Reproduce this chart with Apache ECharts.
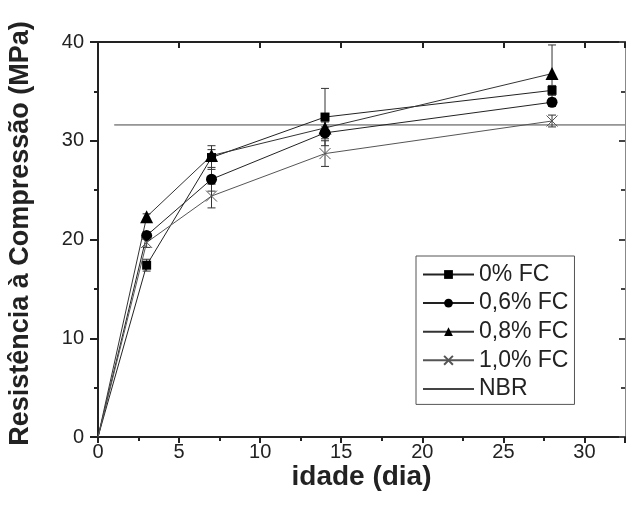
<!DOCTYPE html>
<html><head><meta charset="utf-8">
<script src="https://cdn.jsdelivr.net/npm/echarts@6/dist/echarts.min.js"></script>
<style>html,body{margin:0;padding:0;background:#fff}#c{width:626px;height:510px}</style>
</head><body><div id="c"></div>
<script>
const days = [0, 3, 7, 14, 28];
const names = ['0% FC', '0,6% FC', '0,8% FC', '1,0% FC'];
const fc00 = [0, 17.4, 28.3, 32.4, 35.1];
const fc06 = [0, 20.4, 26.1, 30.8, 33.9];
const fc08 = [0, 22.3, 28.5, 31.3, 36.8];
const fc10 = [0, 19.7, 24.4, 28.7, 32.0];
const err00 = [0, 0.6, 1.2, 2.9, 0.5];
const err06 = [0, 0.4, 1.2, 0.6, 0.4];
const err08 = [0, 0.3, 0.6, 0.6, 2.9];
const err10 = [0, 0.5, 1.2, 1.3, 0.6];
const nbrX = [1, 32.5];
const nbrY = [31.6, 31.6];
const xTicks = [0, 5, 10, 15, 20, 25, 30];
const yTicks = [0, 10, 20, 30, 40];

const values = [fc00, fc06, fc08, fc10];
const errs = [err00, err06, err08, err10];
const symbols = ['rect', 'circle', 'triangle', 'path://M0,0L10,10M10,0L0,10'];
const sizes = [9, 11, 13, 11];
const lineColors = ['#222', '#222', '#333', '#555'];

const series = [];
values.forEach((v, i) => {
  series.push({
    type: 'custom', name: 'err-' + i, silent: true, z: 1,
    data: days.map((d, j) => [d, v[j], errs[i][j]]).filter(p => p[2] > 0),
    renderItem: function (params, api) {
      const x = api.value(0), y = api.value(1), e = api.value(2);
      const top = api.coord([x, y + e]);
      const bot = api.coord([x, y - e]);
      const hw = 4;
      const st = {stroke: '#333', lineWidth: 1};
      return {type: 'group', children: [
        {type: 'line', shape: {x1: top[0], y1: top[1], x2: bot[0], y2: bot[1]}, style: st},
        {type: 'line', shape: {x1: top[0] - hw, y1: top[1], x2: top[0] + hw, y2: top[1]}, style: st},
        {type: 'line', shape: {x1: bot[0] - hw, y1: bot[1], x2: bot[0] + hw, y2: bot[1]}, style: st}
      ]};
    }
  });
});
values.forEach((v, i) => {
  const isX = i === 3;
  series.push({
    type: 'line', name: names[i], z: 3,
    data: days.map((d, j) => ({value: [d, v[j]], symbolSize: j === 0 ? 0 : sizes[i]})),
    symbol: symbols[i], symbolSize: sizes[i], showAllSymbol: true,
    lineStyle: {color: lineColors[i], width: 1},
    itemStyle: isX ? {color: '#555', borderColor: '#555', borderWidth: 1} : {color: '#000', borderWidth: 0},
    emphasis: {disabled: true}, animation: false
  });
});
series.push({
  type: 'line', name: 'NBR', z: 2, symbol: 'none',
  data: nbrX.map((x, j) => [x, nbrY[j]]),
  lineStyle: {color: '#444', width: 1}, itemStyle: {color: '#444'}, animation: false
});

const tickFmt = (list) => (val) => list.indexOf(val) >= 0 ? String(val) : '';
const font = 'Liberation Sans, Arial, sans-serif';
const chart = echarts.init(document.getElementById('c'), null, {renderer: 'canvas'});
chart.setOption({
  animation: false,
  backgroundColor: '#fff',
  grid: {left: 98, right: 1, top: 42, bottom: 73, containLabel: false, outerBoundsMode: 'none'},
  legend: {
    data: names.concat([{name: 'NBR', itemStyle: {opacity: 0}}]),
    orient: 'vertical', left: 416, top: 256,
    itemWidth: 51, itemHeight: 11, itemGap: 5.6,
    padding: [7, 6, 4, 6],
    borderColor: '#555', borderWidth: 1, backgroundColor: '#fff',
    textStyle: {fontFamily: font, fontSize: 23, color: '#222', lineHeight: 22},
    selectedMode: false
  },
  xAxis: [{
    type: 'value', min: 0, max: 32.5, interval: 5,
    axisLine: {onZero: false, lineStyle: {color: '#222', width: 2}},
    axisTick: {show: true, inside: false, length: 6, lineStyle: {color: '#222', width: 2}},
    minorTick: {show: true, splitNumber: 2, length: 4, lineStyle: {color: '#222', width: 2}},
    axisLabel: {formatter: tickFmt(xTicks), fontFamily: font, fontSize: 20, color: '#222', margin: 5},
    splitLine: {show: false},
    name: 'idade (dia)', nameLocation: 'middle', nameGap: 26, nameMoveOverlap: false,
    nameTextStyle: {fontFamily: font, fontSize: 28, fontWeight: 'bold', color: '#222'}
  }, {
    type: 'value', position: 'top', min: 0, max: 32.5, interval: 5,
    axisLine: {onZero: false, lineStyle: {color: '#222', width: 2}},
    axisTick: {show: true, inside: true, length: 6, lineStyle: {color: '#222', width: 2}},
    minorTick: {show: false},
    axisLabel: {show: false}, splitLine: {show: false}
  }],
  yAxis: [{
    type: 'value', min: 0, max: 40, interval: 10,
    axisLine: {onZero: false, lineStyle: {color: '#222', width: 2}},
    axisTick: {show: true, inside: false, length: 8, lineStyle: {color: '#222', width: 2}},
    minorTick: {show: true, splitNumber: 2, length: 4, lineStyle: {color: '#222', width: 2}},
    axisLabel: {formatter: tickFmt(yTicks), fontFamily: font, fontSize: 20, color: '#222', margin: 14},
    splitLine: {show: false},
    name: 'Resistência à Compressão (MPa)', nameLocation: 'middle', nameGap: 64,
    nameTextStyle: {fontFamily: font, fontSize: 27, fontWeight: 'bold', color: '#222', padding: [0, 0, 0, 12]}
  }, {
    type: 'value', position: 'right', min: 0, max: 40, interval: 10,
    axisLine: {onZero: false, lineStyle: {color: '#888', width: 1}},
    axisTick: {show: true, inside: true, length: 6, lineStyle: {color: '#444', width: 2}},
    minorTick: {show: true, splitNumber: 2, length: 4, lineStyle: {color: '#444', width: 2}},
    axisLabel: {show: false}, splitLine: {show: false}
  }],
  series: series
});
</script></body></html>
